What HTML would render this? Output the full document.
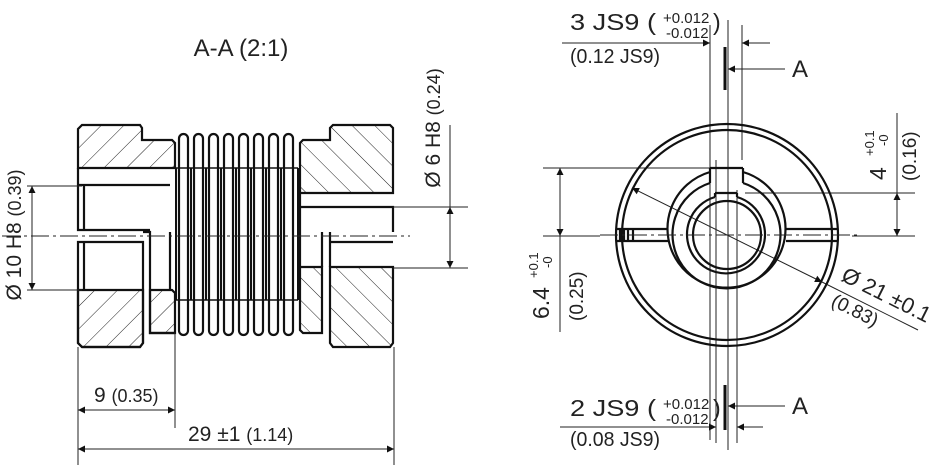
<!DOCTYPE html>
<html><head><meta charset="utf-8"><style>
html,body{margin:0;padding:0;background:#fff}
svg{display:block}
text{font-family:"Liberation Sans",sans-serif;fill:#222}
</style></head><body>
<svg width="940" height="467" viewBox="0 0 940 467" xmlns="http://www.w3.org/2000/svg">
<defs>
<pattern id="hb" patternUnits="userSpaceOnUse" width="16" height="16" patternTransform="rotate(45)">
<line x1="0" y1="0" x2="0" y2="16" stroke="#222" stroke-width="1"/></pattern>
<pattern id="hf" patternUnits="userSpaceOnUse" width="16" height="16" patternTransform="rotate(-45)">
<line x1="0" y1="0" x2="0" y2="16" stroke="#222" stroke-width="1"/></pattern>
<marker id="ar" viewBox="0 0 10 10" refX="10" refY="5" markerWidth="15" markerHeight="7" markerUnits="userSpaceOnUse" orient="auto-start-reverse"><path d="M0,0L10,5L0,10z" fill="#111"/></marker>
</defs>

<text x="241" y="56" font-size="24" text-anchor="middle">A-A (2:1)</text>

<g stroke="#111" stroke-width="2.2" fill="none">
<path d="M82,125 H140 L142,128 V140 H172 L175,143 V168 H78 V129 Z" fill="url(#hb)"/>
<path d="M78,168 V230 H150" />
<path d="M78,185 H170 M84,185 V230"/>
<path d="M78,242 H143 V343 L140,347 H82 L78,343 Z" fill="#fff"/>
<path d="M78,290 H143 V343 L140,347 H82 L78,343 Z" fill="url(#hb)"/>
<path d="M84,242 V290"/>
<path d="M143,232 H150 V333 H175"/>
<path d="M150,290 H172 L175,293 V333 H150 Z" fill="url(#hb)"/>
<path d="M170,232 V290"/>
<path d="M300,143 L303,140 H330 V128 L333,125 H390 L393,128 V193 H300 Z" fill="url(#hf)"/>
<path d="M300,193 V207 H393 V232 M300,207 V232"/>
<path d="M330,242 H393 M322,232 V267 M330,232 V267"/>
<path d="M330,267 H393 V343 L390,347 H333 L330,343 Z" fill="url(#hf)"/>
<path d="M300,267 H322 V333 H303 L300,330 Z" fill="url(#hf)"/>
<path d="M300,232 V267"/>
</g>
<g stroke="#111" stroke-width="2.2" fill="#fff">
<rect x="179" y="134" width="9" height="201" rx="4.5"/>
<rect x="194" y="134" width="9" height="201" rx="4.5"/>
<rect x="209" y="134" width="9" height="201" rx="4.5"/>
<rect x="224" y="134" width="9" height="201" rx="4.5"/>
<rect x="239" y="134" width="9" height="201" rx="4.5"/>
<rect x="254" y="134" width="9" height="201" rx="4.5"/>
<rect x="269" y="134" width="9" height="201" rx="4.5"/>
<rect x="284" y="134" width="9" height="201" rx="4.5"/>
</g>
<g stroke="#111" stroke-width="2">
<path d="M176,168 V300 M298,168 V300 M191,168 V300 M206,168 V300 M221,168 V300 M236,168 V300 M251,168 V300 M266,168 V300 M281,168 V300"/>
<path d="M176,168 H298 M176,300 H298" stroke-width="1.5"/>
</g>
<line x1="2" y1="236" x2="410" y2="236" stroke="#222" stroke-width="1" stroke-dasharray="18,4,3,4"/>

<g stroke="#222" stroke-width="1" fill="none">
<path d="M27,186 H82 M27,290 H82"/>
<line x1="32" y1="186" x2="32" y2="290" marker-start="url(#ar)" marker-end="url(#ar)"/>
<path d="M393,207 H468 M393,268 H468 M450,125 V207"/>
<line x1="450" y1="207" x2="450" y2="268" marker-start="url(#ar)" marker-end="url(#ar)"/>
<path d="M78,347 V465 M394,347 V465 M175,333 V428"/>
<line x1="78" y1="410" x2="175" y2="410" marker-start="url(#ar)" marker-end="url(#ar)"/>
<line x1="78" y1="449" x2="394" y2="449" marker-start="url(#ar)" marker-end="url(#ar)"/>
</g>
<text transform="translate(21,235) rotate(-90)" font-size="21" text-anchor="middle">Ø 10 H8 <tspan font-size="18">(0.39)</tspan></text>
<text transform="translate(440,128) rotate(-90)" font-size="21" text-anchor="middle">Ø 6 H8 <tspan font-size="18">(0.24)</tspan></text>
<text x="94" y="402" font-size="21">9 <tspan font-size="18">(0.35)</tspan></text>
<text x="188" y="441" font-size="21">29 ±1 <tspan font-size="18">(1.14)</tspan></text>

<g stroke="#222" stroke-width="1" fill="none">
<path d="M710,25 V440 M742,25 V160 M716,380 V443 M737,380 V443 M716,160 V380 M737,190 V380 M728,20 V450" />
<line x1="562" y1="43" x2="710" y2="43" marker-end="url(#ar)"/>
<line x1="770" y1="43" x2="742" y2="43" marker-end="url(#ar)"/>
<line x1="560" y1="427" x2="716" y2="427" marker-end="url(#ar)"/>
<line x1="763" y1="427" x2="737" y2="427" marker-end="url(#ar)"/>
<line x1="785" y1="69" x2="728" y2="69" marker-end="url(#ar)"/>
<line x1="785" y1="406" x2="728" y2="406" marker-end="url(#ar)"/>
<path d="M543,168 H712 M543,236 H600 M560,236 V332 M745,193 H915 M852,236 H915 M897,113 V193"/>
<line x1="560" y1="168" x2="560" y2="236" marker-start="url(#ar)" marker-end="url(#ar)"/>
<line x1="897" y1="193" x2="897" y2="236" marker-start="url(#ar)" marker-end="url(#ar)"/>
<line x1="632" y1="188" x2="822" y2="282" marker-start="url(#ar)" marker-end="url(#ar)"/>
<line x1="822" y1="282" x2="918" y2="330"/>
</g>
<path d="M725,47 V90 M725,385 V430" stroke="#111" stroke-width="3"/>
<g stroke="#111" stroke-width="2.2" fill="none">
<circle cx="727" cy="235" r="111"/>
<circle cx="727" cy="235" r="105"/>
<path d="M710,172 A59,59 0 1 0 743,172 M710,168 H743 M710,168 V172 M743,168 V172"/>
<path d="M710,183 A54,54 0 1 0 743,183 M710,183 V172 M743,183 V172"/>
<path d="M715,197 A39,39 0 1 0 737,197 M715,193 H737 M715,193 V197 M737,193 V197"/>
<circle cx="727" cy="235" r="34"/>
<path d="M617,229 H668 M617,241 H668 M786,229 H837 M786,241 H837"/>
<path d="M620,229 V241 M624,229 V241 M628,229 V241 M633,229 V241"/>
</g>
<line x1="600" y1="235" x2="860" y2="235" stroke="#222" stroke-width="1" stroke-dasharray="18,4,3,4"/>

<text x="570" y="30" font-size="23" textLength="86" lengthAdjust="spacingAndGlyphs">3 JS9 (</text>
<text x="663" y="23" font-size="15">+0.012</text>
<text x="666" y="38" font-size="15">-0.012</text>
<text x="713" y="30" font-size="23">)</text>
<text x="570" y="63" font-size="20" textLength="90" lengthAdjust="spacingAndGlyphs">(0.12 JS9)</text>
<text x="792" y="77" font-size="24">A</text>

<text x="570" y="416" font-size="23" textLength="86" lengthAdjust="spacingAndGlyphs">2 JS9 (</text>
<text x="663" y="409" font-size="15">+0.012</text>
<text x="666" y="424" font-size="15">-0.012</text>
<text x="713" y="416" font-size="23">)</text>
<text x="570" y="446" font-size="20" textLength="90" lengthAdjust="spacingAndGlyphs">(0.08 JS9)</text>
<text x="792" y="414" font-size="24">A</text>

<g transform="rotate(-90)">
<text x="-319" y="549" font-size="23">6.4</text>
<text x="-278" y="538" font-size="13">+0.1</text>
<text x="-268" y="552" font-size="13">-0</text>
<text x="-321" y="583" font-size="19">(0.25)</text>
<text x="-180" y="886" font-size="23">4</text>
<text x="-156" y="874" font-size="13">+0.1</text>
<text x="-146" y="888" font-size="13">-0</text>
<text x="-181" y="916" font-size="19">(0.16)</text>
</g>
<text transform="translate(840,280) rotate(26.5)" font-size="22">Ø 21 ±0.1</text>
<text transform="translate(830,305) rotate(26.5)" font-size="19">(0.83)</text>
</svg>
</body></html>
